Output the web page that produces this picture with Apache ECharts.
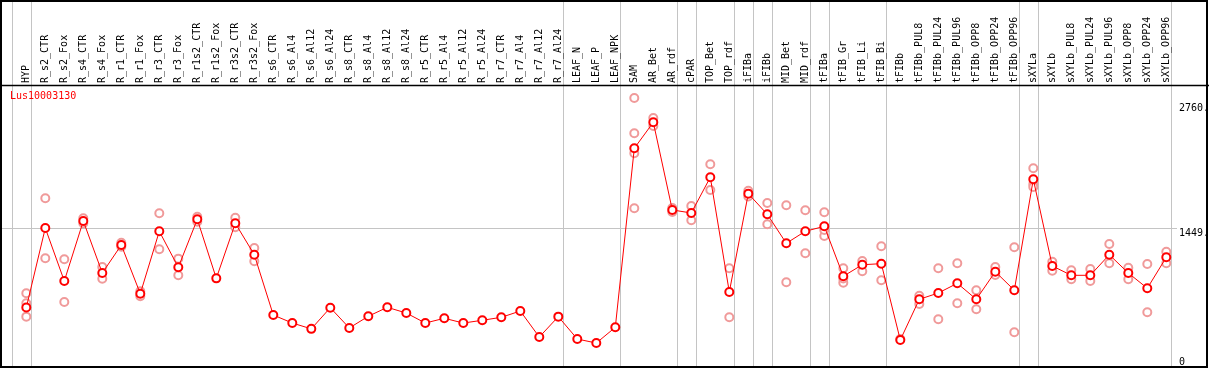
<!DOCTYPE html>
<html>
<head>
<meta charset="utf-8">
<script src="https://cdn.jsdelivr.net/npm/echarts@6/dist/echarts.min.js"></script>
<style>
html,body{margin:0;padding:0;background:#fff;}
#chart{width:1209px;height:370px;}
</style>
</head>
<body>
<div id="chart"></div>
<script>
// ---- data ----
var chartTitle = 'Lus10003130';
var categories = ['HYP','R_s2_CTR','R_s2_Fox','R_s4_CTR','R_s4_Fox','R_r1_CTR','R_r1_Fox','R_r3_CTR','R_r3_Fox','R_r1s2_CTR','R_r1s2_Fox','R_r3s2_CTR','R_r3s2_Fox','R_s6_CTR','R_s6_Al4','R_s6_Al12','R_s6_Al24','R_s8_CTR','R_s8_Al4','R_s8_Al12','R_s8_Al24','R_r5_CTR','R_r5_Al4','R_r5_Al12','R_r5_Al24','R_r7_CTR','R_r7_Al4','R_r7_Al12','R_r7_Al24','LEAF_N','LEAF_P','LEAF_NPK','SAM','AR_Bet','AR_rdf','cPAR','TOP_Bet','TOP_rdf','iFIBa','iFIBb','MID_Bet','MID_rdf','tFIBa','tFIB_Gr','tFIB_Li','tFIB_Bi','tFIBb','tFIBb_PUL8','tFIBb_PUL24','tFIBb_PUL96','tFIBb_OPP8','tFIBb_OPP24','tFIBb_OPP96','sXYLa','sXYLb','sXYLb_PUL8','sXYLb_PUL24','sXYLb_PUL96','sXYLb_OPP8','sXYLb_OPP24','sXYLb_OPP96'];
var meanValues = [615,1449,893,1523,977,1271,760,1415,1037,1541,921,1499,1169,
  536,452,391,613,400,523,617,557,452,502,452,481,512,578,305,519,284,242,407,
  2286,2559,1639,1607,1982,778,1810,1593,1289,1415,1467,943,1064,1075,274,
  701,767,869,701,991,796,1961,1051,953,953,1169,977,817,1142];
var rep1 = [765,1761,1121,1551,1040,1295,785,1604,1128,1568,null,1558,1240,
  null,null,null,null,null,null,null,null,null,null,null,null,null,null,null,null,null,null,null,
  2814,2604,1660,1681,2118,1027,1841,1712,1688,1635,1614,1027,1103,1258,285,
  739,1027,1079,796,1040,1247,2076,1096,1006,1019,1282,1033,1072,1201];
var rep2 = [519,1132,673,1500,917,1253,733,1226,953,1515,null,1457,1100,
  null,null,null,null,null,null,null,null,null,null,null,null,null,null,null,null,null,null,null,
  1656,2520,1618,1530,1849,512,1780,1488,880,1184,1366,876,995,901,null,
  652,491,659,596,956,355,1908,1001,911,893,1079,911,565,1079];
var rep3 = [660,null,null,null,null,null,null,null,null,null,null,null,null,
  null,null,null,null,null,null,null,null,null,null,null,null,null,null,null,null,null,null,null,
  2444,null,null,null,null,null,null,null,null,null,1429,920,null,null,null,
  null,null,null,null,null,null,1880,null,null,null,null,null,null,null];
var rep4 = [null,null,null,null,null,null,null,null,null,null,null,null,null,
  null,null,null,null,null,null,null,null,null,null,null,null,null,null,null,null,null,null,null,
  2234,null,null,null,null,null,null,null,null,null,null,null,null,null,null,
  null,null,null,null,null,null,null,null,null,null,null,null,null,null];
// last category index of each group (group separators)
var groupEnds = [-1,0,28,31,34,35,37,38,39,41,42,45,52,53,60];
var yTickValues = [0,1449,2760];
var yTickLabels = ['0','1449.','2760.'];
var refLineValue = 1449;

// ---- chart ----
var MONO = '"DejaVu Sans Mono","Liberation Mono",monospace';
var chart = echarts.init(document.getElementById('chart'), null, {renderer:'canvas'});

function repSeries(arr){
  return {
    type:'line', data:arr, xAxisIndex:0, yAxisIndex:0,
    symbol:'emptyCircle', symbolSize:8, showSymbol:true,
    lineStyle:{width:0,opacity:0}, connectNulls:false,
    itemStyle:{color:'#f09a9a', borderColor:'#f09a9a', borderWidth:1.3},
    silent:true, animation:false, z:2
  };
}

chart.setOption({
  backgroundColor:'#fff',
  animation:false,
  grid:{left:16.8, width:1159, top:86, height:282, containLabel:false},
  xAxis:{
    type:'category', data:categories, position:'top', boundaryGap:true,
    axisLine:{show:false}, axisTick:{show:false}, splitLine:{show:false},
    axisLabel:{rotate:90, interval:0, margin:3, fontSize:10, fontFamily:MONO, color:'#000'}
  },
  yAxis:{type:'value', min:-20, max:2940, show:false, splitLine:{show:false}},
  series:[
    repSeries(rep1), repSeries(rep2), repSeries(rep3), repSeries(rep4),
    {
      type:'line', data:meanValues, symbol:'emptyCircle', symbolSize:8,
      lineStyle:{color:'#ff0000', width:1},
      itemStyle:{color:'#ff0000', borderColor:'#ff0000', borderWidth:1.5},
      z:3, animation:false
    }
  ]
});

// frame / separators via library scales
var p0 = chart.convertToPixel({xAxisIndex:0}, 0);
var p1 = chart.convertToPixel({xAxisIndex:0}, 1);
var band = p1 - p0;
var g = [];
groupEnds.forEach(function(i){
  var x = Math.round(p0 + i*band + 0.23*band) + 0.5;
  g.push({type:'line', z:0, silent:true, shape:{x1:x,y1:1,x2:x,y2:367}, style:{stroke:'#c4c4c4', lineWidth:1}});
});
var yRef = Math.round(chart.convertToPixel({yAxisIndex:0}, refLineValue)) + 0.5;
g.push({type:'line', z:0, silent:true, shape:{x1:1,y1:yRef,x2:1177,y2:yRef}, style:{stroke:'#c4c4c4', lineWidth:1}});
g.push({type:'line', z:5, silent:true, shape:{x1:0,y1:85.5,x2:1209,y2:85.5}, style:{stroke:'#000', lineWidth:1.5}});
g.push({type:'rect', z:5, silent:true, shape:{x:1,y:1,width:1206,height:366}, style:{stroke:'#000', fill:null, lineWidth:2}});
var xLab = Math.round(p0 + 60*band + 0.23*band) + 8;
yTickValues.forEach(function(v, k){
  var y = chart.convertToPixel({yAxisIndex:0}, v);
  var isZero = (v === 0);
  g.push({type:'text', z:5, silent:true, x:xLab, y: isZero ? y + 1 : y,
    style:{text:yTickLabels[k], fill:'#000', font:'10px ' + MONO, textVerticalAlign: isZero ? 'bottom' : 'top', textAlign:'left'}});
});
g.push({type:'text', z:5, silent:true, x:10, y:91,
  style:{text:chartTitle, fill:'#ff0000', font:'10px ' + MONO, textVerticalAlign:'top', textAlign:'left'}});
chart.setOption({graphic:g});
</script>
</body>
</html>
